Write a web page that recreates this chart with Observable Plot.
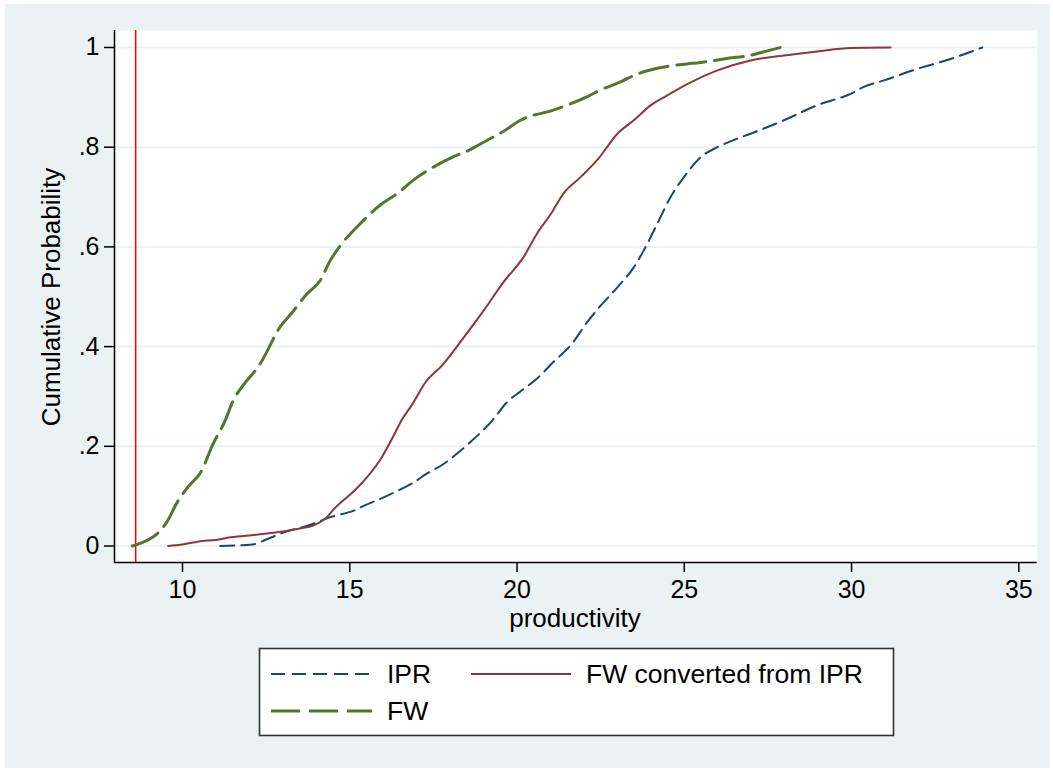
<!DOCTYPE html>
<html>
<head>
<meta charset="utf-8">
<script src="https://cdn.jsdelivr.net/npm/d3@7"></script>
<script src="https://cdn.jsdelivr.net/npm/@observablehq/plot@0.6"></script>
<style>
  html, body { margin: 0; padding: 0; background: #ffffff; }
  #bg { position: absolute; left: 5px; top: 4px; width: 1045px; height: 764px; background: #eaf2f3; }
  #chart { position: absolute; left: 0; top: 0; }
  #overlay { position: absolute; left: 0; top: 0; }
  #chart svg g[aria-label="x-axis tick"] path,
  #chart svg g[aria-label="y-axis tick"] path { stroke-width: 1.5; }
</style>
</head>
<body>
<div id="bg"></div>
<div id="chart"></div>
<svg id="overlay" width="1053" height="771" font-family="Liberation Sans, Arial, sans-serif">
  <text x="60" y="297" transform="rotate(-90 60 297)" text-anchor="middle" font-size="26" fill="#000">Cumulative Probability</text>
  <text x="575" y="627" text-anchor="middle" font-size="26" fill="#000">productivity</text>
  <rect x="259.5" y="648.5" width="634" height="87" fill="#ffffff" stroke="#333333" stroke-width="1.6"></rect>
  <line x1="271" y1="674" x2="372" y2="674" stroke="#1a476f" stroke-width="2" stroke-dasharray="14,7"></line>
  <text x="387" y="683" font-size="26.5" fill="#000">IPR</text>
  <line x1="471" y1="674" x2="571" y2="674" stroke="#90353b" stroke-width="2"></line>
  <text x="586" y="683" font-size="26.5" fill="#000">FW converted from IPR</text>
  <line x1="271" y1="711" x2="372" y2="711" stroke="#55752f" stroke-width="3" stroke-dasharray="29,9"></line>
  <text x="387" y="720" font-size="26.5" fill="#000">FW</text>
</svg>
<script>
// ---- data ----
const xTicks = [10, 15, 20, 25, 30, 35];
const yTicks = [0, 0.2, 0.4, 0.6, 0.8, 1];
const yTickLabels = ["0", ".2", ".4", ".6", ".8", "1"];
const xLineValue = 8.6;

const iprX = [11.13, 12.09, 12.5, 12.9, 13.3, 13.71, 14.42, 15.12, 15.5, 15.93, 16.56, 16.94, 17.3, 17.77, 18.2, 18.58, 19.29, 19.69, 20.1, 20.6, 21.1, 21.61, 22.12, 22.5, 23.0, 23.49, 23.79, 24.19, 24.59, 24.99, 25.49, 25.99, 26.5, 26.98, 27.98, 28.97, 29.97, 30.4, 30.97, 31.96, 32.96, 33.91];
const iprY = [0, 0.003, 0.013, 0.024, 0.033, 0.04, 0.058, 0.071, 0.083, 0.095, 0.115, 0.129, 0.145, 0.163, 0.185, 0.207, 0.254, 0.288, 0.31, 0.336, 0.37, 0.403, 0.451, 0.482, 0.519, 0.559, 0.593, 0.646, 0.7, 0.74, 0.78, 0.8, 0.815, 0.827, 0.854, 0.884, 0.907, 0.922, 0.934, 0.957, 0.977, 1.0];

const fwcX = [9.57, 10.0, 10.58, 11.0, 11.38, 12.0, 12.39, 13.1, 13.5, 13.91, 14.32, 14.54, 14.92, 15.2, 15.53, 15.93, 16.34, 16.56, 16.84, 17.27, 17.77, 18.28, 18.99, 19.59, 20.2, 20.6, 21.0, 21.41, 21.9, 22.42, 23.0, 23.49, 23.99, 24.49, 25.19, 25.99, 26.98, 27.98, 28.97, 29.97, 31.17];
const fwcY = [0, 0.003, 0.01, 0.012, 0.017, 0.021, 0.024, 0.03, 0.035, 0.041, 0.058, 0.075, 0.098, 0.115, 0.139, 0.175, 0.225, 0.254, 0.281, 0.329, 0.363, 0.407, 0.471, 0.529, 0.58, 0.627, 0.665, 0.709, 0.74, 0.776, 0.827, 0.854, 0.884, 0.904, 0.93, 0.954, 0.974, 0.984, 0.992, 0.999, 1.0];

const fwX = [8.5, 8.9, 9.16, 9.52, 9.87, 10.17, 10.58, 10.88, 11.29, 11.49, 11.89, 12.3, 12.6, 12.8, 13.31, 13.71, 14.11, 14.42, 14.72, 15.23, 15.93, 16.44, 16.94, 17.5, 18.07, 18.6, 19.08, 19.6, 20.1, 21.11, 22.12, 22.5, 23.13, 23.49, 24.04, 24.49, 25.08, 25.49, 26.0, 26.48, 26.9, 27.3, 27.88];
const fwY = [0, 0.01, 0.02, 0.047, 0.091, 0.119, 0.152, 0.2, 0.254, 0.288, 0.329, 0.363, 0.4, 0.427, 0.471, 0.505, 0.532, 0.573, 0.603, 0.641, 0.685, 0.708, 0.736, 0.76, 0.78, 0.795, 0.813, 0.832, 0.854, 0.875, 0.902, 0.915, 0.932, 0.944, 0.956, 0.962, 0.967, 0.97, 0.975, 0.98, 0.983, 0.99, 1.0];

// ---- build tables ----
const toRows = (xs, ys) => xs.map((x, i) => ({x, y: ys[i]}));
const ipr = toRows(iprX, iprY);
const fwc = toRows(fwcX, fwcY);
const fw = toRows(fwX, fwY);

const xDomain = [7.967, 35.55];
const yDomain = [-0.0331, 1.0341];
const fmtY = d => yTickLabels[yTicks.findIndex(t => Math.abs(t - d) < 1e-9)];

const chart = Plot.plot({
  width: 1053,
  height: 650,
  marginLeft: 114,
  marginRight: 16.3,
  marginTop: 30,
  marginBottom: 88,
  style: {
    fontFamily: "Liberation Sans, Arial, sans-serif",
    fontSize: "25px",
    color: "#000",
    background: "transparent",
    overflow: "visible"
  },
  x: {domain: xDomain, ticks: xTicks, tickSize: 10, tickPadding: 8, label: null},
  y: {domain: yDomain, ticks: yTicks, tickSize: 10, tickPadding: 5, tickFormat: fmtY, label: null},
  marks: [
    Plot.frame({fill: "#ffffff", stroke: "none"}),
    Plot.ruleY(yTicks, {stroke: "#eaf2f3", strokeWidth: 2}),
    Plot.ruleX([xLineValue], {stroke: "#ff0000", strokeWidth: 1.5}),
    Plot.line(ipr, {x: "x", y: "y", stroke: "#1a476f", strokeWidth: 2, strokeDasharray: "14,7", curve: "monotone-x"}),
    Plot.line(fwc, {x: "x", y: "y", stroke: "#90353b", strokeWidth: 2, curve: "monotone-x"}),
    Plot.line(fw, {x: "x", y: "y", stroke: "#55752f", strokeWidth: 3, strokeDasharray: "29,9", curve: "monotone-x"}),
    Plot.ruleY([yDomain[0]], {stroke: "#000", strokeWidth: 1.5}),
    Plot.ruleX([xDomain[0]], {stroke: "#000", strokeWidth: 1.5})
  ]
});
document.getElementById("chart").appendChild(chart);
</script>
</body>
</html>
